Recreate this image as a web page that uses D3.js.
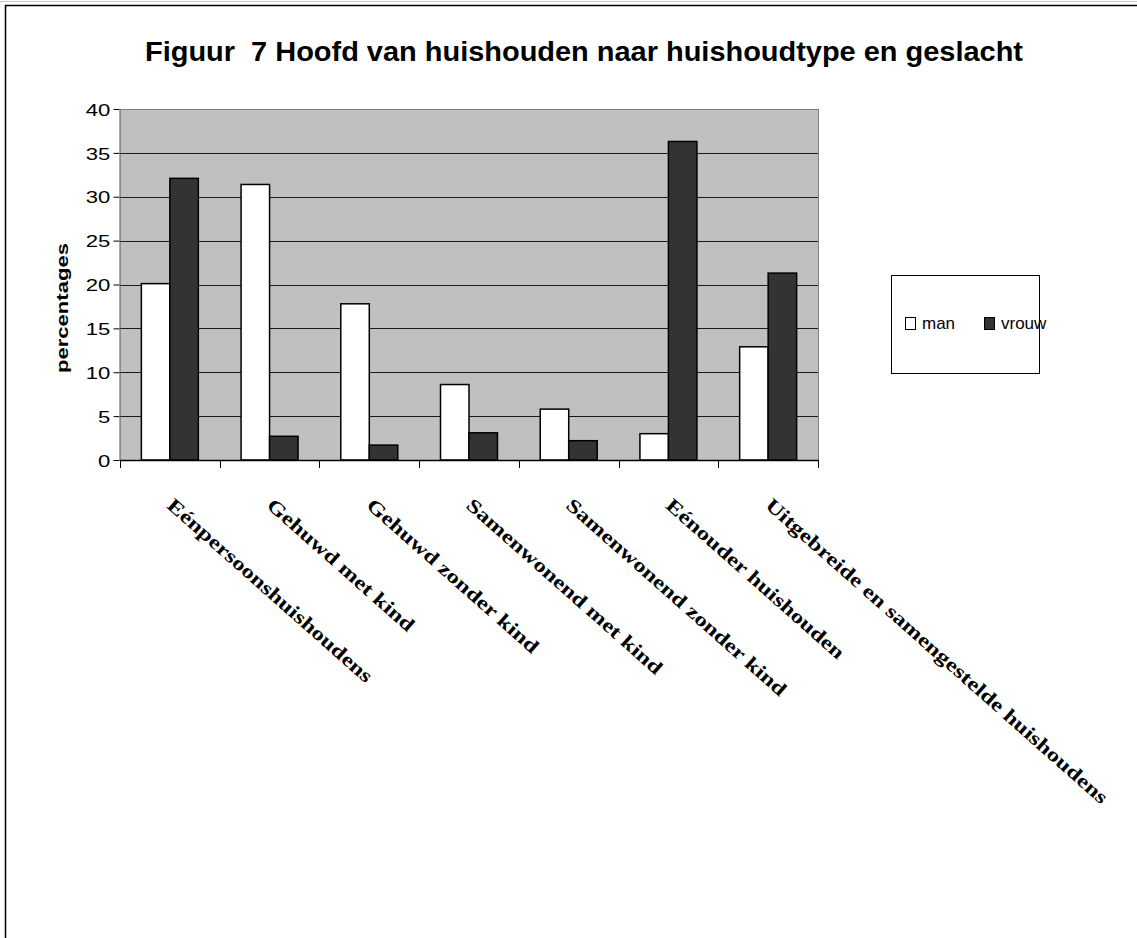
<!DOCTYPE html>
<meta charset="utf-8">
<style>
body {
  margin: 0;
  background: #fff;
}
.tick text {
  font-family: "Liberation Sans", Arial, sans-serif;
  font-size: 17px;
  fill: #000;
}
.xlabel {
  font-family: "Liberation Serif", "Times New Roman", serif;
  font-weight: bold;
  font-size: 19.5px;
}
</style>
<script src="https://cdn.jsdelivr.net/npm/d3@7"></script>
<body>
<script>
var categories = [
  "Eénpersoonshuishoudens",
  "Gehuwd met kind",
  "Gehuwd zonder kind",
  "Samenwonend met kind",
  "Samenwonend zonder kind",
  "Eénouder huishouden",
  "Uitgebreide en samengestelde huishoudens"
];
var seriesNames = ["man", "vrouw"];
var man = [20.1, 31.4, 17.8, 8.6, 5.8, 3.0, 12.9];
var vrouw = [32.1, 2.7, 1.7, 3.1, 2.2, 36.3, 21.3];
var yTicks = [0, 5, 10, 15, 20, 25, 30, 35, 40];
var colors = {man: "#ffffff", vrouw: "#333333"};

var width = 1137,
    height = 938;

var svg = d3.select("body").append("svg")
    .attr("width", width)
    .attr("height", height);

// outer frame
svg.append("line")
    .attr("x1", 0).attr("x2", width).attr("y1", 1.5).attr("y2", 1.5)
    .attr("stroke", "#c8c8c8");
svg.append("rect")
    .attr("x", 5.5).attr("y", 5.5)
    .attr("width", width + 20).attr("height", height + 20)
    .attr("fill", "none")
    .attr("stroke", "#000")
    .attr("stroke-width", 1.5);

// title
svg.append("text")
    .attr("x", 584).attr("y", 61)
    .attr("text-anchor", "middle")
    .attr("font-family", "Liberation Sans, Arial, sans-serif")
    .attr("font-weight", "bold")
    .attr("font-size", 27)
    .attr("textLength", 878)
    .attr("lengthAdjust", "spacingAndGlyphs")
    .style("white-space", "pre")
    .text("Figuur  7 Hoofd van huishouden naar huishoudtype en geslacht");

var x0 = d3.scaleBand().domain(categories).range([120, 818]).padding(0);
var x1 = d3.scaleBand().domain(seriesNames).range([0, x0.bandwidth()])
    .paddingInner(0).paddingOuter(0.75);
var y = d3.scaleLinear().domain([0, 40]).range([460, 109]);

// plot background
svg.append("rect")
    .attr("x", 120).attr("y", y(40))
    .attr("width", 818 - 120).attr("height", y(0) - y(40))
    .attr("fill", "#c0c0c0");

// gridlines
svg.append("g").selectAll("line")
    .data(yTicks.filter(function(d) { return d > 0; }))
  .enter().append("line")
    .attr("x1", 120).attr("x2", 818)
    .attr("y1", function(d) { return Math.round(y(d)) + 0.5; })
    .attr("y2", function(d) { return Math.round(y(d)) + 0.5; })
    .attr("stroke", function(d) { return d === 40 ? "#808080" : "#1a1a1a"; })
    .attr("stroke-width", 1);

// right border of plot
svg.append("line")
    .attr("x1", 818.5).attr("x2", 818.5)
    .attr("y1", y(40)).attr("y2", y(0))
    .attr("stroke", "#808080");

// bars
var rows = categories.map(function(c, i) {
  return {cat: c, values: [{key: "man", value: man[i]}, {key: "vrouw", value: vrouw[i]}]};
});
svg.append("g").selectAll("g")
    .data(rows)
  .enter().append("g")
    .attr("transform", function(d) { return "translate(" + x0(d.cat) + ",0)"; })
  .selectAll("rect")
    .data(function(d) { return d.values; })
  .enter().append("rect")
    .attr("x", function(d) { return x1(d.key); })
    .attr("width", x1.bandwidth())
    .attr("y", function(d) { return y(d.value); })
    .attr("height", function(d) { return y(0) - y(d.value); })
    .attr("fill", function(d) { return colors[d.key]; })
    .attr("stroke", "#000")
    .attr("stroke-width", 1.5);

// y axis
var yAxis = svg.append("g")
    .attr("transform", "translate(119.5,0)")
    .call(d3.axisLeft(y).tickValues(yTicks).tickSize(6).tickSizeOuter(0).tickPadding(9));
yAxis.select(".domain").attr("stroke", "#555");
yAxis.selectAll(".tick line").attr("stroke", "#000");
yAxis.selectAll(".tick text")
    .attr("x", -7)
    .attr("dy", "0.36em")
    .attr("transform", "scale(1.3,1)");

// x axis
var xAxis = svg.append("g");
xAxis.append("line")
    .attr("x1", 120).attr("x2", 819)
    .attr("y1", 460.5).attr("y2", 460.5)
    .attr("stroke", "#000").attr("stroke-width", 1.5);
xAxis.selectAll(".xtick")
    .data(categories.map(function(c) { return x0(c); }).concat([818]))
  .enter().append("line")
    .attr("class", "xtick")
    .attr("x1", function(d) { return Math.round(d) + 0.5; })
    .attr("x2", function(d) { return Math.round(d) + 0.5; })
    .attr("y1", 460).attr("y2", 468)
    .attr("stroke", "#000");

xAxis.selectAll(".xlabel")
    .data(categories)
  .enter().append("text")
    .attr("class", "xlabel")
    .attr("transform", function(d) {
      return "translate(" + (x0(d) + x0.bandwidth() / 2 - 4) + ",507) rotate(41.5) scale(1.27,1)";
    })
    .text(function(d) { return d; });

// y axis title
svg.append("text")
    .attr("transform", "translate(68,308) rotate(-90)")
    .attr("text-anchor", "middle")
    .attr("font-family", "Liberation Sans, Arial, sans-serif")
    .attr("font-weight", "bold")
    .attr("font-size", 17)
    .attr("textLength", 130)
    .attr("lengthAdjust", "spacingAndGlyphs")
    .text("percentages");

// legend
var legend = svg.append("g").attr("transform", "translate(891,275)");
legend.append("rect")
    .attr("x", 0.5).attr("y", 0.5)
    .attr("width", 148).attr("height", 98)
    .attr("fill", "#fff")
    .attr("stroke", "#000");
var item = legend.selectAll(".item")
    .data(seriesNames)
  .enter().append("g")
    .attr("class", "item")
    .attr("transform", function(d, i) { return "translate(" + (14 + i * 79) + ",42)"; });
item.append("rect")
    .attr("x", 0.5).attr("y", 0.5)
    .attr("width", 10).attr("height", 12)
    .attr("fill", function(d) { return colors[d]; })
    .attr("stroke", "#000");
item.append("text")
    .attr("x", 17).attr("y", 12)
    .attr("font-family", "Liberation Sans, Arial, sans-serif")
    .attr("font-size", 17)
    .text(function(d) { return d; });
</script>
